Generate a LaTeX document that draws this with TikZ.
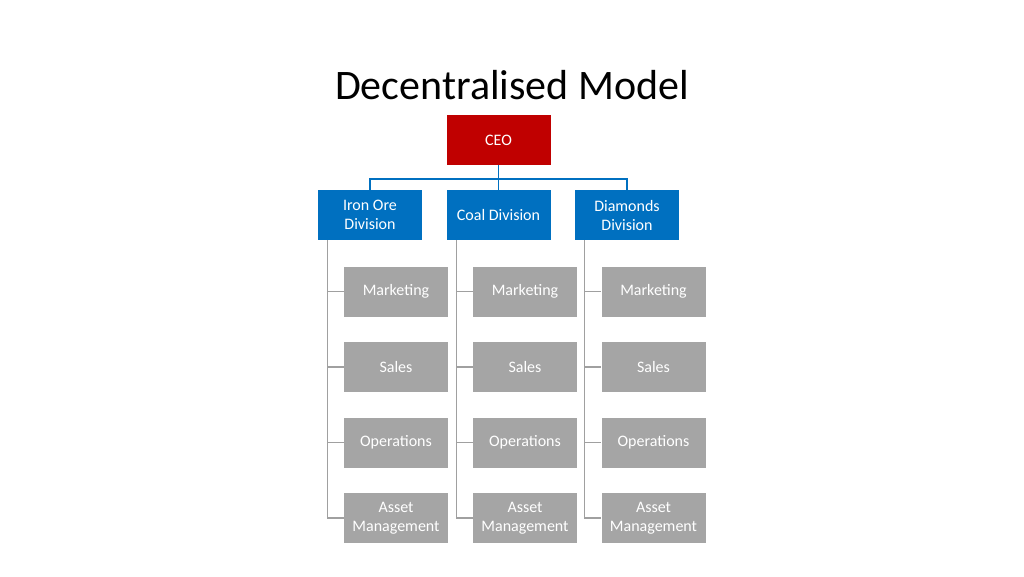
\documentclass[tikz,border=0pt]{standalone}
\usepackage{fontspec}
\usetikzlibrary{calc}
\setmainfont{Carlito}
\definecolor{ceo}{HTML}{C00000}
\definecolor{div}{HTML}{0070C0}
\definecolor{sub}{HTML}{A5A5A5}
\definecolor{subline}{HTML}{A0A0A0}
\begin{document}
\begin{tikzpicture}[x=1pt,y=-1pt,
  box/.style={minimum width=104pt,minimum height=50pt,inner sep=1pt,text=white,font=\fontsize{16}{19}\selectfont,align=center},
  ceobox/.style={box,fill=ceo},
  divbox/.style={box,fill=div},
  subbox/.style={box,fill=sub},
  bline/.style={draw=div,line width=1.3pt},
  gline/.style={draw=subline,line width=1.3pt}]
\useasboundingbox (0,0) rectangle (1024,576);
\node (title) at (512,85) {\fontsize{42}{48}\selectfont Decentralised Model};
\node[ceobox] (ceo) at (498.5,140) {CEO};
\node[divbox] (d1) at (370,215) {Iron Ore\\Division};
\node[divbox] (d2) at (498.5,215) {Coal Division};
\node[divbox] (d3) at (627,215) {Diamonds\\Division};
\coordinate (bus) at (498.5,179);
\draw[bline] (ceo.south) -- (bus);
\foreach \d in {d1,d2,d3} \draw[bline] (bus) -| (\d.north);
\foreach \d/\x in {d1/396,d2/525,d3/653.5}{
  \node[subbox] (\d m) at (\x,291.5) {Marketing};
  \node[subbox] (\d s) at (\x,367) {Sales};
  \node[subbox] (\d o) at (\x,442.5) {Operations};
  \node[subbox] (\d a) at (\x,518) {Asset\\Management};
  \coordinate (\d top) at ($(\d.south west)+(10,0)$);
  \foreach \s in {m,s,o,a}
    \draw[gline] (\d top) |- (\d\s.west);
}
\end{tikzpicture}
\end{document}
